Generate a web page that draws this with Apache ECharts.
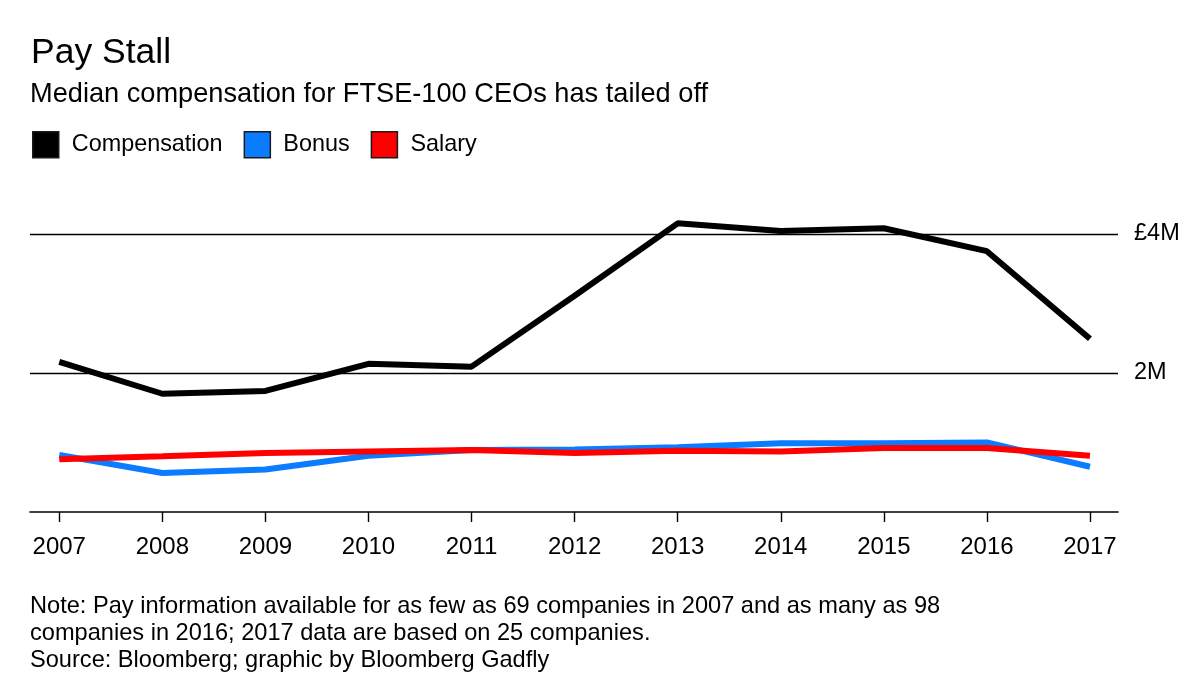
<!DOCTYPE html>
<html>
<head>
<meta charset="utf-8">
<script src="https://cdn.jsdelivr.net/npm/echarts@6/dist/echarts.min.js"></script>
<style>
html,body{margin:0;padding:0;background:#fff;}
#chart{width:1200px;height:692px;}
</style>
</head>
<body>
<div id="chart"></div>
<script>
const years = [2007, 2008, 2009, 2010, 2011, 2012, 2013, 2014, 2015, 2016, 2017];
const compensation = [2.16, 1.70, 1.74, 2.13, 2.09, 3.11, 4.15, 4.04, 4.08, 3.75, 2.49];
const bonus = [0.82, 0.56, 0.61, 0.81, 0.89, 0.90, 0.93, 0.99, 0.99, 1.00, 0.65];
const salary = [0.76, 0.80, 0.85, 0.87, 0.89, 0.85, 0.88, 0.87, 0.92, 0.92, 0.81];
const yTicks = [2, 4];
const yTickLabels = ['2M', '£4M'];

const FONT = '"Liberation Sans", Arial, Helvetica, sans-serif';
const pairs = arr => years.map((y, i) => [y, arr[i]]);

const chart = echarts.init(document.getElementById('chart'));
chart.setOption({
  backgroundColor: '#fff',
  animation: false,
  textStyle: { fontFamily: FONT, color: '#000' },
  title: [
    { text: 'Pay Stall', left: 26, top: 30, textStyle: { fontFamily: FONT, fontSize: 35.5, fontWeight: 'normal', color: '#000' } },
    { text: 'Median compensation for FTSE-100 CEOs has tailed off', left: 25, top: 76, textStyle: { fontFamily: FONT, fontSize: 27.2, fontWeight: 'normal', color: '#000' } },
    { text: 'Note: Pay information available for as few as 69 companies in 2007 and as many as 98\ncompanies in 2016; 2017 data are based on 25 companies.\nSource: Bloomberg; graphic by Bloomberg Gadfly',
      left: 25, top: 588, textStyle: { fontFamily: FONT, fontSize: 23.6, lineHeight: 27, fontWeight: 'normal', color: '#000' } }
  ],
  legend: {
    left: 32, top: 131, padding: 0,
    icon: 'rect',
    itemWidth: 26, itemHeight: 26, itemGap: 21,
    itemStyle: { borderColor: '#1a1a1a', borderWidth: 1.5 },
    textStyle: { fontFamily: FONT, fontSize: 23.4, color: '#000', padding: [0, 0, 0, 8] },
    data: ['Compensation', 'Bonus', 'Salary']
  },
  grid: { left: 30, right: 82, top: 199, bottom: 180 },
  xAxis: {
    type: 'value',
    min: 2006.716, max: 2017.272,
    axisLine: { show: true, lineStyle: { color: '#000', width: 1.6 } },
    axisTick: { show: true, customValues: years, length: 10, lineStyle: { color: '#000', width: 1.4 } },
    axisLabel: { customValues: years, margin: 23, fontSize: 24, color: '#000', fontFamily: FONT, formatter: v => String(Math.round(v)) },
    splitLine: { show: false }
  },
  yAxis: {
    type: 'value',
    position: 'right',
    min: 0, max: 4.5, interval: 2,
    axisLine: { show: false },
    axisTick: { show: false },
    axisLabel: {
      customValues: yTicks, margin: 16, fontSize: 23.5, color: '#000', fontFamily: FONT, align: 'left',
      formatter: v => { const i = yTicks.indexOf(Math.round(v)); return i >= 0 ? yTickLabels[i] : ''; }
    },
    splitLine: { show: true, showMinLine: false, showMaxLine: false, lineStyle: { color: '#000', width: 1.3 } }
  },
  series: [
    { name: 'Compensation', type: 'line', data: pairs(compensation), symbol: 'none', itemStyle: { color: '#000' }, lineStyle: { color: '#000', width: 6 } },
    { name: 'Bonus', type: 'line', data: pairs(bonus), symbol: 'none', itemStyle: { color: '#0b7bff' }, lineStyle: { color: '#0b7bff', width: 6 } },
    { name: 'Salary', type: 'line', data: pairs(salary), symbol: 'none', itemStyle: { color: '#ff0000' }, lineStyle: { color: '#ff0000', width: 6 } }
  ]
});
</script>
</body>
</html>
